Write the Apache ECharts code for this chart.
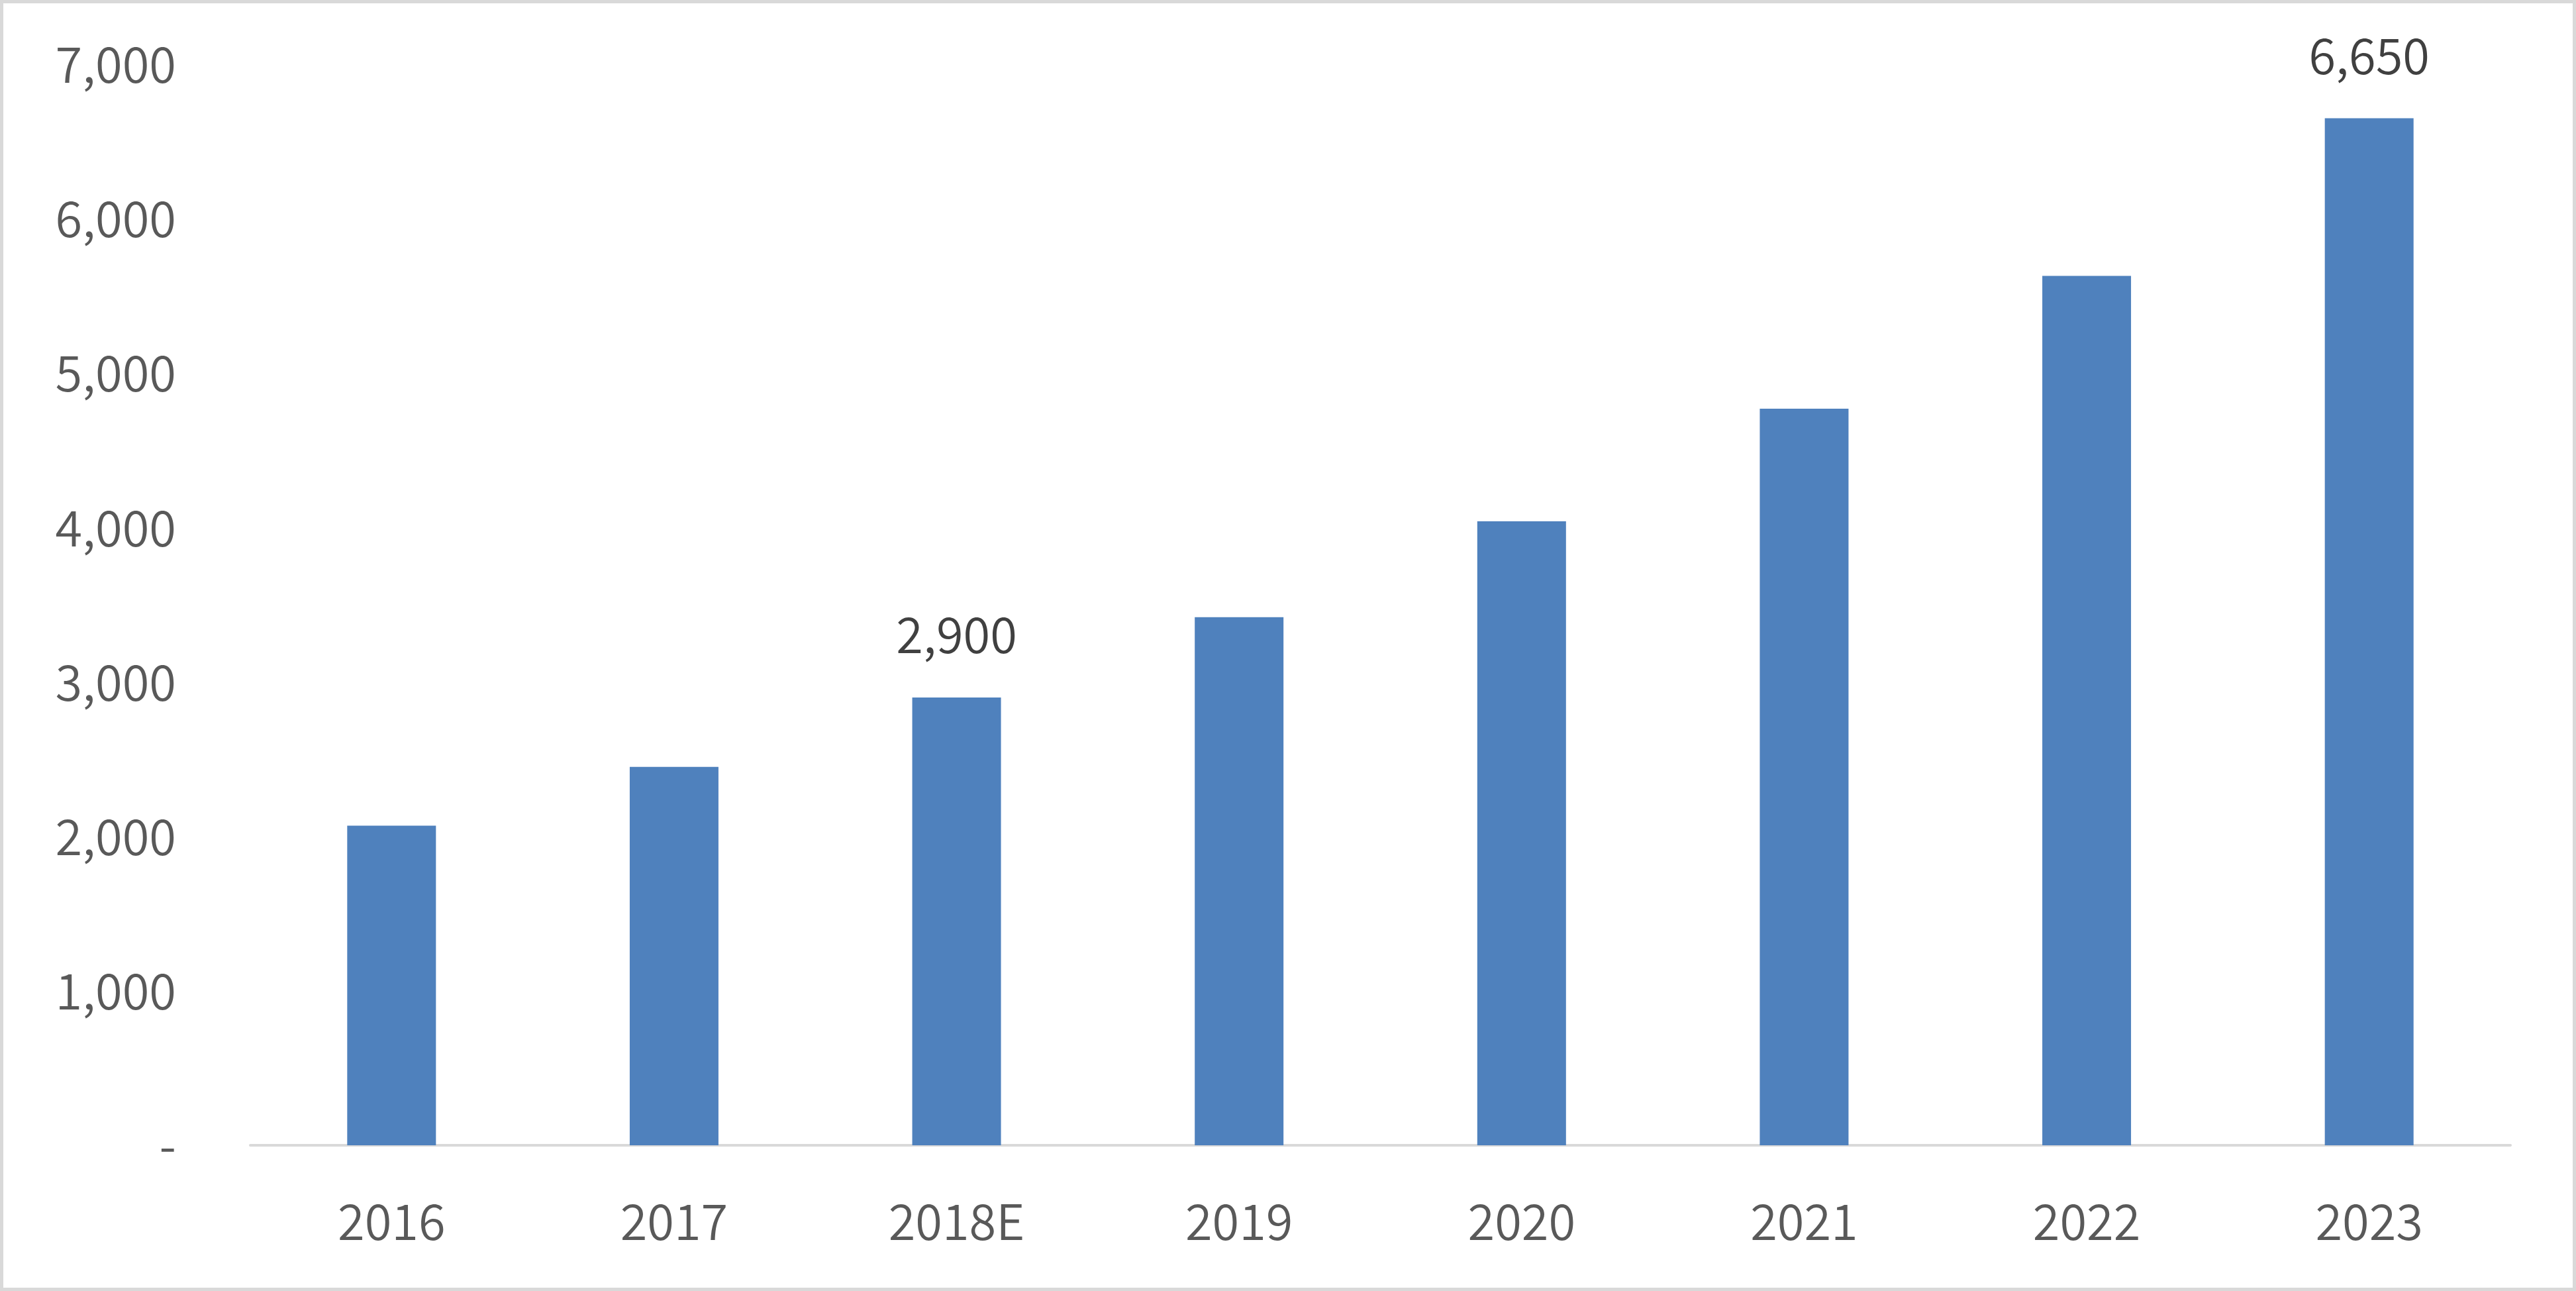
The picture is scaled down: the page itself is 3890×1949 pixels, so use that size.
<!DOCTYPE html>
<html>
<head>
    <meta charset="utf-8">
    <title>ECharts</title>
    <script src="https://cdn.jsdelivr.net/npm/echarts@6/dist/echarts.min.js"></script>
    <style>
      html, body { margin: 0; padding: 0; background: #fff; }
    </style>
</head>
<body>
    <div id="main" style="width: 3890px;height:1949px;"></div>
    <script type="text/javascript">
    // data
    var years = ['2016', '2017', '2018E', '2019', '2020', '2021', '2022', '2023'];
    var values = [2070, 2450, 2900, 3420, 4040, 4770, 5630, 6650];
    // only these bars carry a value label
    var labelled = [2, 7];
    var yTicks = [0, 1000, 2000, 3000, 4000, 5000, 6000, 7000];

    var chart = echarts.init(document.getElementById('main'));
    var font = '"Noto Sans CJK KR", "Noto Sans", sans-serif';

    var barData = values.map(function (v, i) {
      return {
        value: v,
        label: { show: labelled.indexOf(i) >= 0 }
      };
    });

    var option = {
        backgroundColor: '#ffffff',
        animation: false,
        graphic: [{
            type: 'rect',
            shape: { x: 2.5, y: 2.5, width: 3885, height: 1944 },
            style: { fill: 'none', stroke: '#d9d9d9', lineWidth: 5 }
        }],
        grid: {
            left: 378,
            right: 99,
            top: 97,
            bottom: 220
        },
        xAxis: {
            type: 'category',
            data: years,
            axisTick: { show: false },
            axisLine: { lineStyle: { color: '#d9d9d9', width: 4 } },
            axisLabel: {
                color: '#595959',
                fontFamily: font,
                fontWeight: 350,
                fontSize: 74,
                margin: 78
            }
        },
        yAxis: {
            type: 'value',
            min: yTicks[0],
            max: yTicks[yTicks.length - 1],
            interval: 1000,
            splitLine: { show: false },
            axisLine: { show: false },
            axisTick: { show: false },
            axisLabel: {
                color: '#595959',
                fontFamily: font,
                fontWeight: 350,
                fontSize: 74,
                margin: 112,
                formatter: function (v) {
                    return v === 0 ? '-' : v.toLocaleString('en-US');
                }
            }
        },
        series: [{
            type: 'bar',
            data: barData,
            barWidth: 134,
            itemStyle: { color: '#4f81bd' },
            label: {
                show: false,
                position: 'top',
                distance: 58,
                color: '#404040',
                fontFamily: font,
                fontWeight: 350,
                fontSize: 74,
                formatter: function (p) {
                    return p.value.toLocaleString('en-US');
                }
            }
        }]
    };

    chart.setOption(option);
    </script>
</body>
</html>
